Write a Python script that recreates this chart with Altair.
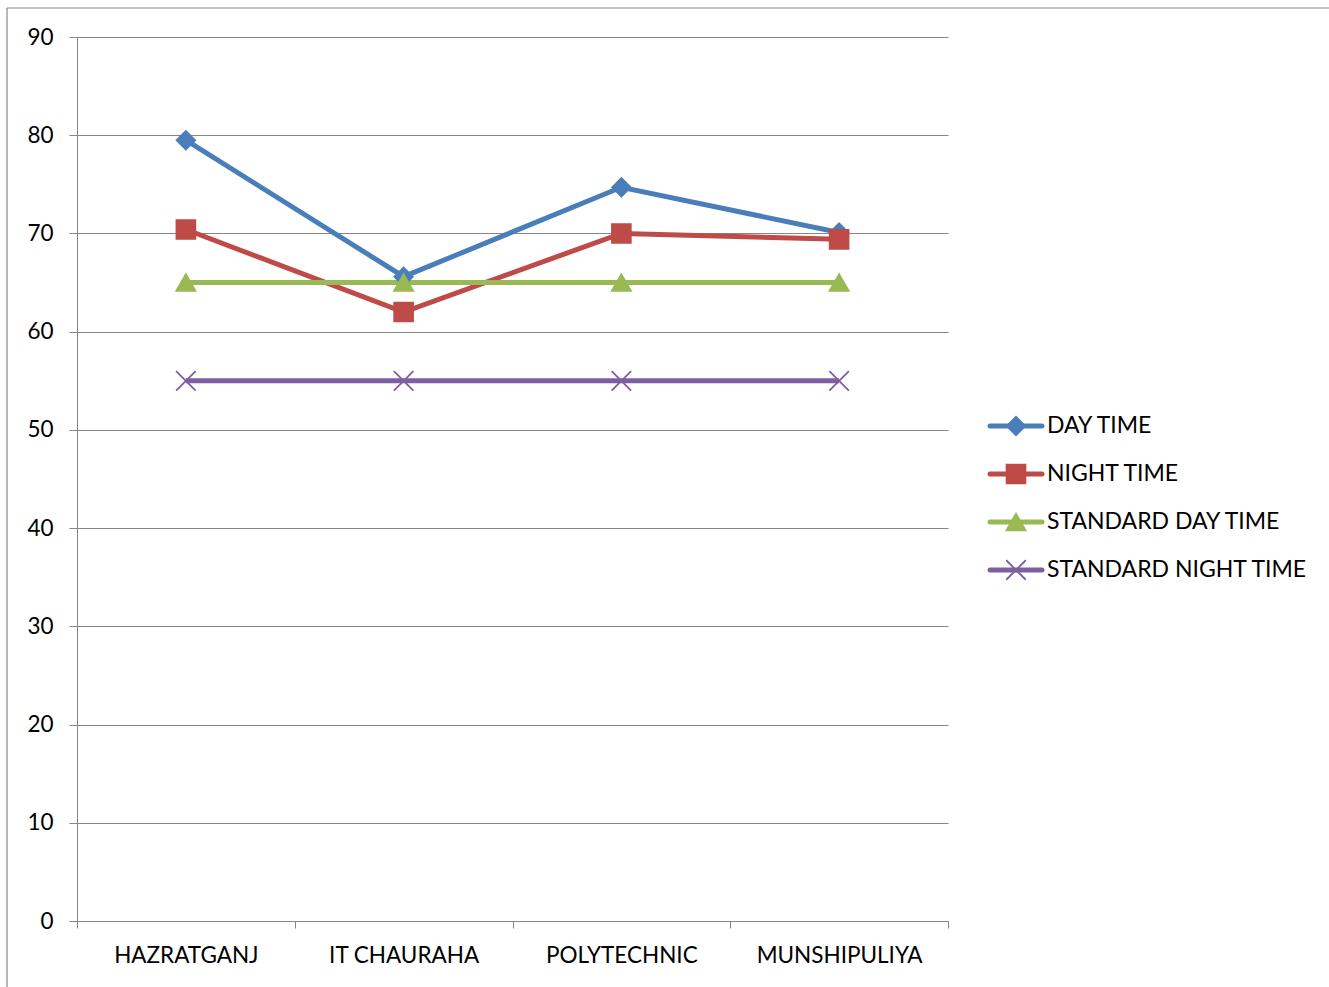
import altair as alt
import pandas as pd

# Monitoring locations along the x axis
locations = ["HAZRATGANJ", "IT CHAURAHA", "POLYTECHNIC", "MUNSHIPULIYA"]

# Noise levels (dB) per series
day_time = [79.5, 65.6, 74.7, 70.1]
night_time = [70.4, 62.0, 70.0, 69.4]
standard_day = [65, 65, 65, 65]
standard_night = [55, 55, 55, 55]

series_names = ["DAY TIME", "NIGHT TIME", "STANDARD DAY TIME", "STANDARD NIGHT TIME"]
series_values = [day_time, night_time, standard_day, standard_night]
series_colors = ["#4A7EBB", "#BE4B48", "#98B954", "#7D5FA0"]
x_path = "M-1,-1L1,1M-1,1L1,-1"
series_shapes = ["diamond", "square", "triangle-up", x_path]
marker_sizes = [340, 380, 420, 380]

rows = []
for name, vals in zip(series_names, series_values):
    for loc, v in zip(locations, vals):
        rows.append({"series": name, "location": loc, "value": v})
df = pd.DataFrame(rows)
legend_df = pd.DataFrame({"series": series_names})
frame_df = pd.DataFrame({"a": [0]})

FONT = "Lato"
GRID = "#878787"
FS = 22.5

color_scale = alt.Scale(domain=series_names, range=series_colors)
shape_scale = alt.Scale(domain=series_names, range=series_shapes)
size_scale = alt.Scale(domain=series_names, range=marker_sizes)

x_enc = alt.X(
    "location:N",
    sort=locations,
    scale=alt.Scale(type="band", domain=locations, paddingInner=0, paddingOuter=0),
    axis=alt.Axis(
        title=None, labelAngle=0, tickBand="extent", grid=False,
        domainColor=GRID, tickColor=GRID, tickSize=7, labelPadding=16,
        labelFont=FONT, labelFontSize=FS, labelColor="black",
    ),
)
y_enc = alt.Y(
    "value:Q",
    scale=alt.Scale(domain=[0, 90], nice=False),
    axis=alt.Axis(
        title=None, values=list(range(0, 91, 10)), grid=True, gridColor=GRID,
        domainColor=GRID, tickColor=GRID, tickSize=8, labelPadding=16,
        labelFont=FONT, labelFontSize=FS, labelColor="black",
    ),
)

lines = alt.Chart(df).mark_line(strokeWidth=5).encode(
    x=x_enc, y=y_enc,
    color=alt.Color("series:N", scale=color_scale, legend=None),
    order=alt.Order("loc_idx:Q"),
).transform_calculate(
    loc_idx="indexof(" + str(locations) + ", datum.location)"
)

points = alt.Chart(df).mark_point(strokeWidth=1.8, opacity=1, fillOpacity=1).encode(
    x=x_enc, y=y_enc,
    shape=alt.Shape("series:N", scale=shape_scale, legend=None),
    size=alt.Size("series:N", scale=size_scale, legend=None),
    fill=alt.Fill("series:N", scale=color_scale, legend=None),
    stroke=alt.Stroke("series:N", scale=color_scale, legend=None),
)

main = alt.layer(lines, points)

# Legend drawn as a line-with-marker sample next to each series name
leg_y = alt.Y("series:N", scale=alt.Scale(type="point", domain=series_names, range=[389, 533], padding=0), axis=None)
leg_rules = alt.Chart(legend_df).mark_rule(strokeWidth=5, strokeCap="round").encode(
    x=alt.value(913), x2=alt.value(965), y=leg_y,
    color=alt.Color("series:N", scale=color_scale, legend=None),
)
leg_points = alt.Chart(legend_df).mark_point(strokeWidth=1.8, opacity=1, fillOpacity=1).encode(
    x=alt.value(939), y=leg_y,
    shape=alt.Shape("series:N", scale=shape_scale, legend=None),
    size=alt.Size("series:N", scale=size_scale, legend=None),
    fill=alt.Fill("series:N", scale=color_scale, legend=None),
    stroke=alt.Stroke("series:N", scale=color_scale, legend=None),
)
leg_text = alt.Chart(legend_df).mark_text(align="left", baseline="middle", font=FONT, fontSize=23, color="black").encode(
    x=alt.value(970), y=leg_y, text="series:N",
)

# Outer chart frame (left and top edges)
frame_left = alt.Chart(frame_df).mark_rule(color=GRID, strokeWidth=1.2).encode(
    x=alt.value(-70), y=alt.value(-29), y2=alt.value(960),
)
frame_top = alt.Chart(frame_df).mark_rule(color=GRID, strokeWidth=1.2).encode(
    x=alt.value(-70), x2=alt.value(1260), y=alt.value(-29),
)

legend = alt.layer(leg_rules, leg_points, leg_text, frame_left, frame_top)

chart = alt.layer(main, legend).resolve_scale(y="independent").properties(
    width=871,
    height=884,
    padding={"left": 77, "top": 37, "right": 381, "bottom": 66},
    autosize="none",
    background="white",
).configure_view(stroke=None)

chart.save("out.html", embed_options={"renderer": "svg", "actions": False})
